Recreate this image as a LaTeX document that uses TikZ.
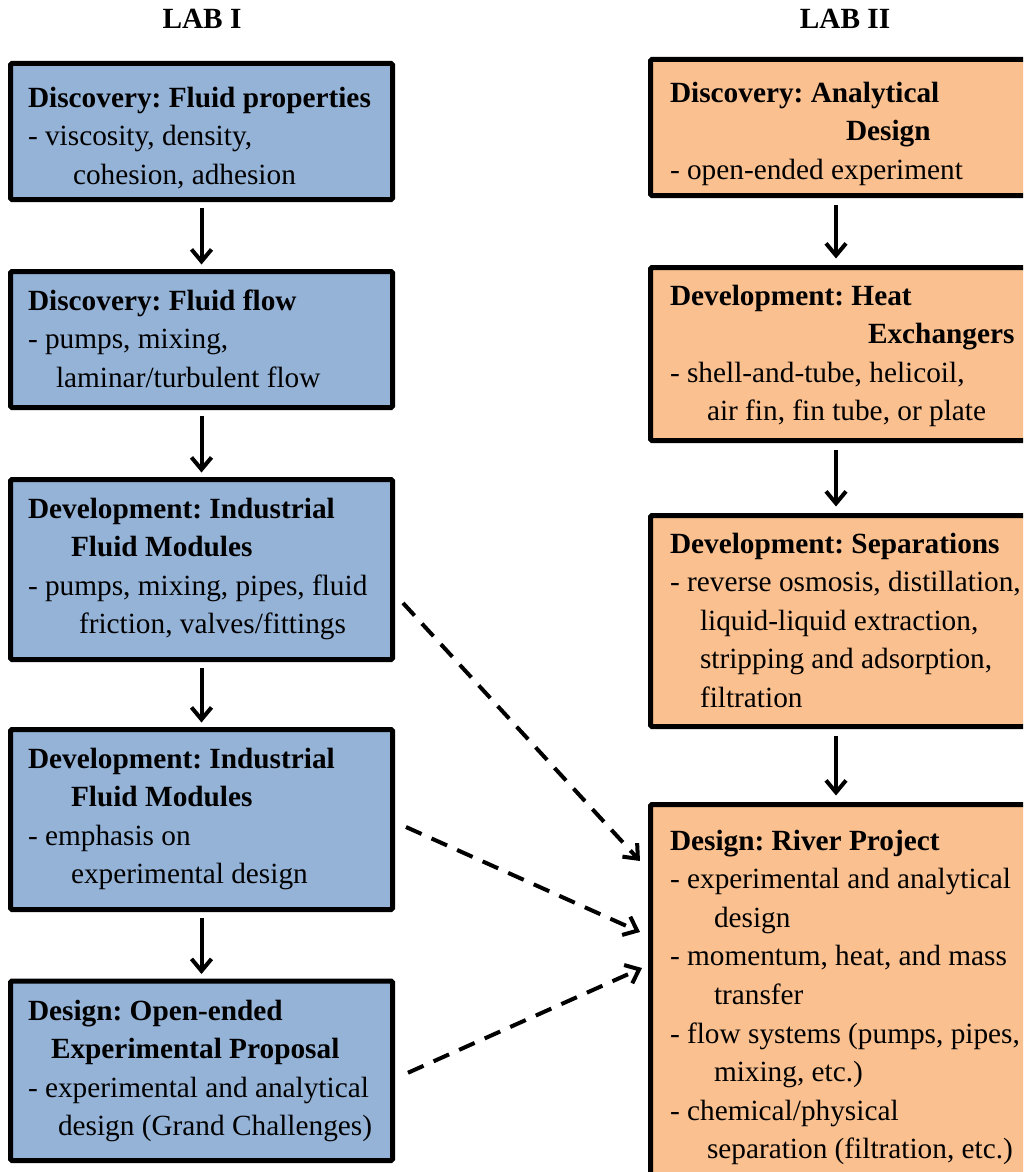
\documentclass[tikz,border=0pt]{standalone}
\usepackage{fontspec}
\setmainfont{Liberation Serif}
\usetikzlibrary{arrows.meta}

\definecolor{labone}{RGB}{149,179,215}
\definecolor{labtwo}{RGB}{250,192,144}

\begin{document}
\frenchspacing
\begin{tikzpicture}[x=1pt, y=-1pt, font=\fontsize{29.3}{38.6}\selectfont]

% --- Define Styles ---
\tikzset{
    box/.style={draw=black, line width=5pt, rounded corners=1.5pt, anchor=north west,
                inner ysep=0pt, outer sep=0pt, align=flush left},
    lbox/.style={box, fill=labone, inner xsep=17.5pt, text width=347pt},
    rbox/.style={box, fill=labtwo, inner xsep=19.5pt, text width=410pt},
    flow/.style={-{Straight Barb[length=12pt, width=20pt]}, line width=4pt, shorten <=8pt, shorten >=7pt},
    link/.style={-{Straight Barb[length=12pt, width=20pt]}, line width=4pt, dash pattern=on 17pt off 11pt}
}

\useasboundingbox (0,0) rectangle (1023,1172);
\clip (0,0) rectangle (1023,1172);

% ================= 1. LAB I =================
\node[anchor=base] (lab1) at (202,29) {\textbf{LAB I}};

\node[lbox, text height=43.5pt, text depth=92.5pt] (l1) at (10.5,63.5)
    {\textbf{Discovery: Fluid properties}\\- viscosity, density,\\\hspace*{45pt}cohesion, adhesion};
\node[lbox, text height=38.5pt, text depth=97.5pt] (l2) at (10.5,271.5)
    {\textbf{Discovery: Fluid flow}\\- pumps, mixing,\\\hspace*{28pt}laminar/turbulent flow};
\node[lbox, text height=38.5pt, text depth=141.5pt] (l3) at (10.5,479.5)
    {\textbf{Development: Industrial}\\\hspace*{43pt}\textbf{Fluid Modules}\\- pumps, mixing, pipes, fluid\\\hspace*{51pt}friction, valves/fittings};
\node[lbox, text height=38.5pt, text depth=141.5pt] (l4) at (10.5,729.5)
    {\textbf{Development: Industrial}\\\hspace*{43pt}\textbf{Fluid Modules}\\- emphasis on\\\hspace*{43pt}experimental design};
\node[lbox, text height=39pt, text depth=140.5pt] (l5) at (10.5,981)
    {\textbf{Design: Open-ended}\\\hspace*{23pt}\textbf{Experimental Proposal}\\- experimental and analytical\\\hspace*{30pt}design (Grand Challenges)};

\draw[flow] (l1) -- (l2);
\draw[flow] (l2) -- (l3);
\draw[flow] (l3) -- (l4);
\draw[flow] (l4) -- (l5);

% ================= 2. LAB II =================
\node[anchor=base] (lab2) at (845,29) {\textbf{LAB II}};

\node[rbox, text height=42.5pt, text depth=93.5pt] (r1) at (650.5,59.5)
    {\textbf{Discovery: Analytical}\\\hspace*{176pt}\textbf{Design}\\- open-ended experiment};
\node[rbox, text height=37.5pt, text depth=135.5pt] (r2) at (650.5,267.5)
    {\textbf{Development: Heat}\\\hspace*{198pt}\textbf{Exchangers}\\- shell-and-tube, helicoil,\\\hspace*{37pt}air fin, fin tube, or plate};
\node[rbox, text height=37.5pt, text depth=173.5pt] (r3) at (650.5,515.5)
    {\textbf{Development: Separations}\\- reverse osmosis, distillation,\\\hspace*{30pt}liquid-liquid extraction,\\\hspace*{30pt}stripping and adsorption,\\\hspace*{30pt}filtration};
\node[rbox, text height=45.5pt, text depth=380pt] (r4) at (650.5,804.5)
    {\textbf{Design: River Project}\\- experimental and analytical\\\hspace*{44pt}design\\- momentum, heat, and mass\\\hspace*{44pt}transfer\\- flow systems (pumps, pipes,\\\hspace*{44pt}mixing, etc.)\\- chemical/physical\\\hspace*{37pt}separation (filtration, etc.)};

\draw[flow, shorten <=9pt, shorten >=9pt] ([xshift=185.5pt]r1.south west) -- ([xshift=185.5pt]r2.north west);
\draw[flow, shorten <=9pt, shorten >=9pt] ([xshift=185.5pt]r2.south west) -- ([xshift=185.5pt]r3.north west);
\draw[flow, shorten <=9pt, shorten >=9pt] ([xshift=185.5pt]r3.south west) -- ([xshift=185.5pt]r4.north west);

% ================= 3. LINKS =================
\draw[link] ([xshift=10.5pt, yshift=-33.5pt]l3.east) -- ([xshift=-10.5pt, yshift=-56.5pt]r4.north west);
\draw[link] ([xshift=13.5pt, yshift=-7.5pt]l4.east) -- ([xshift=-10.5pt, yshift=-127.5pt]r4.north west);
\draw[link] ([xshift=15.5pt, yshift=-2pt]l5.east) -- ([xshift=-8.5pt, yshift=-163.5pt]r4.north west);

\end{tikzpicture}
\end{document}
